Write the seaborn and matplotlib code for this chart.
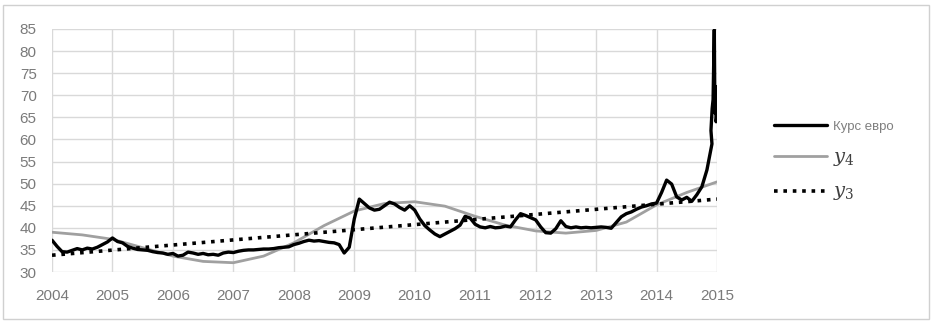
import numpy as np
import pandas as pd
import matplotlib
matplotlib.use("Agg")
import matplotlib.pyplot as plt
import seaborn as sns
from matplotlib.patches import Rectangle

# ---------------- data ----------------
years = [2004, 2005, 2006, 2007, 2008, 2009, 2010, 2011, 2012, 2013, 2014, 2015]
y_ticks = [30, 35, 40, 45, 50, 55, 60, 65, 70, 75, 80, 85]

# monthly euro rate, Jan 2004 .. Dec 2014
rate_2004 = [37.2, 35.8, 34.6, 34.5, 34.9, 35.3, 35.0, 35.4, 35.2, 35.6, 36.2, 36.8]
rate_2005 = [37.7, 36.9, 36.6, 35.8, 35.4, 35.1, 35.0, 34.9, 34.6, 34.4, 34.3, 34.0]
rate_2006 = [34.2, 33.6, 33.8, 34.5, 34.3, 34.0, 34.2, 33.9, 34.0, 33.8, 34.3, 34.5]
rate_2007 = [34.4, 34.7, 34.9, 35.0, 35.0, 35.1, 35.2, 35.2, 35.3, 35.5, 35.6, 35.7]
rate_2008 = [36.2, 36.5, 36.9, 37.2, 37.0, 37.1, 36.9, 36.7, 36.6, 36.2, 34.3, 35.6]
rate_2009 = [42.0, 46.5, 45.5, 44.5, 44.0, 44.2, 45.0, 45.8, 45.4, 44.6, 44.0, 45.0]
rate_2010 = [44.0, 42.0, 40.5, 39.5, 38.6, 38.0, 38.6, 39.2, 39.8, 40.6, 42.6, 42.2]
rate_2011 = [40.8, 40.2, 40.0, 40.3, 40.0, 40.1, 40.4, 40.2, 41.8, 43.2, 42.8, 42.3]
rate_2012 = [41.8, 40.2, 38.9, 38.8, 39.8, 41.6, 40.3, 40.0, 40.2, 40.0, 40.1, 40.0]
rate_2013 = [40.1, 40.2, 40.1, 39.9, 41.2, 42.5, 43.2, 43.6, 44.2, 44.7, 45.0, 45.4]
rate_2014 = [45.6, 48.0, 50.8, 49.9, 47.0, 46.3, 46.9, 46.0, 47.5, 49.3, 53.1, 59.0]
# December 2014 spike
spike_t = [2014.90, 2014.92, 2014.935, 2014.955, 2014.965, 2014.975, 2014.985, 2014.995]
spike_v = [62.0, 67.0, 69.0, 84.8, 66.0, 72.0, 64.0, 65.0]

# polynomial trend y4
y4_t = [2004.0, 2004.5, 2005.0, 2005.5, 2006.0, 2006.5, 2007.0, 2007.5, 2008.0, 2008.5,
        2009.0, 2009.5, 2010.0, 2010.5, 2011.0, 2011.5, 2012.0, 2012.5, 2013.0, 2013.5,
        2014.0, 2014.5, 2015.0]
y4_v = [39.0, 38.4, 37.4, 35.5, 33.6, 32.4, 32.1, 33.6, 36.6, 40.5,
        43.8, 45.5, 45.9, 44.9, 42.6, 40.6, 39.3, 38.8, 39.4, 41.3,
        45.2, 48.0, 50.4]

# linear trend y3
y3_t = [2004.0, 2015.0]
y3_v = [33.8, 46.5]

labels = ["Курс евро", "$y_4$", "$y_3$"]

# ---------------- build frames ----------------
monthly = (rate_2004 + rate_2005 + rate_2006 + rate_2007 + rate_2008 + rate_2009 +
           rate_2010 + rate_2011 + rate_2012 + rate_2013 + rate_2014)
t_month = [2004 + i / 12 for i in range(len(monthly))]
rate_df = pd.DataFrame({"t": t_month + spike_t, "v": monthly + spike_v})
y4_df = pd.DataFrame({"t": y4_t, "v": y4_v})
y3_df = pd.DataFrame({"t": y3_t, "v": y3_v})

# ---------------- style ----------------
sns.set_style("white")
plt.rcParams["font.family"] = ["Liberation Sans", "DejaVu Sans"]
plt.rcParams["mathtext.fontset"] = "dejavuserif"

fig = plt.figure(figsize=(9.34, 3.24), dpi=100)
ax = fig.add_axes([52 / 934, 1 - 272 / 324, (717 - 52) / 934, (272 - 29) / 324])

grid_c = "#d9d9d9"
sns.lineplot(data=rate_df, x="t", y="v", ax=ax, color="black", lw=2.4,
             label=labels[0], estimator=None, sort=False, zorder=3)
sns.lineplot(data=y4_df, x="t", y="v", ax=ax, color="#a0a0a0", lw=2.0,
             label=labels[1], estimator=None, zorder=2)
sns.lineplot(data=y3_df, x="t", y="v", ax=ax, color="black", lw=2.6,
             linestyle=(0, (1, 1.6)), label=labels[2], estimator=None, zorder=4)

ax.set_xlim(2004, 2015)
ax.set_ylim(30, 85)
ax.set_xticks(years)
ax.set_yticks(y_ticks)
ax.set_xticklabels([str(y) for y in years])
ax.set_yticklabels([str(v) for v in y_ticks])
ax.set_xlabel("")
ax.set_ylabel("")
ax.grid(True, color=grid_c, lw=1.0)
ax.set_axisbelow(True)
for s in ax.spines.values():
    s.set_visible(False)
ax.tick_params(axis="both", length=0, colors="#7a7a7a", labelsize=11)
ax.tick_params(axis="x", pad=12)
ax.tick_params(axis="y", pad=11)

handles, labs = ax.get_legend_handles_labels()
ax.get_legend().remove()
leg = fig.legend(handles, labs, loc="upper left",
                 bbox_to_anchor=(760 / 934, 1 - 106 / 324), frameon=False,
                 handlelength=3.5, handletextpad=0.4, labelspacing=1.0,
                 fontsize=11)
txts = leg.get_texts()
txts[0].set_fontsize(9.5)
txts[0].set_color("#7f7f7f")
for t in txts[1:]:
    t.set_fontsize(14)
    t.set_color("#404040")

fig.patches.append(Rectangle((3 / 934, 5 / 324), 926 / 934, 314 / 324,
                             transform=fig.transFigure, fill=False,
                             edgecolor="#d0d0d0", lw=1.0))

fig.savefig("out.png", dpi=100)
